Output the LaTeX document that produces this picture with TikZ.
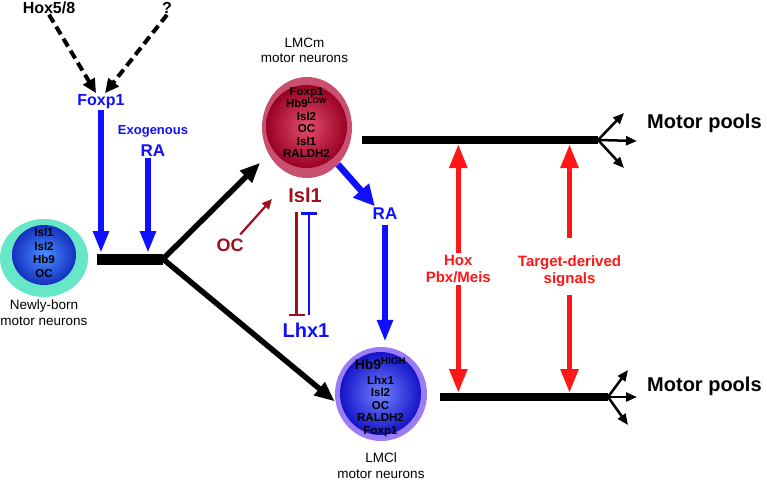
\documentclass[tikz,border=0pt]{standalone}
\usepackage{fontspec}
\setmainfont{Liberation Sans}
\usetikzlibrary{arrows.meta,shapes.geometric}
\definecolor{cblue}{HTML}{1010FF}
\definecolor{cred}{HTML}{FF1616}
\definecolor{cdred}{HTML}{A0101C}
\definecolor{mint}{HTML}{66E8C8}
\definecolor{rose}{HTML}{C8506E}
\definecolor{lav}{HTML}{9C7CF6}
\definecolor{nbIn}{HTML}{4A90FF}
\definecolor{nbOut}{HTML}{1430C0}
\definecolor{mIn}{HTML}{E2506C}
\definecolor{mOut}{HTML}{9A0024}
\definecolor{lIn}{HTML}{7080FF}
\definecolor{lOut}{HTML}{1414C8}
\newcommand{\fsz}[2]{\fontsize{#1}{#2}\selectfont}
\begin{document}
\begin{tikzpicture}[x=1pt,y=-1pt,
  txt/.style={inner sep=1pt, align=center},
  celltxt/.style={align=center, inner sep=0pt, font=\fsz{11.5}{12.5}\bfseries},
  cellcap/.style={align=center, inner sep=0pt, font=\fsz{13.5}{16}},
  cellring/.style={ellipse, inner sep=0pt},
  dasharr/.style={line width=4pt, dash pattern=on 9pt off 5pt, -{Triangle[length=14pt,width=13pt]}},
  bluearr/.style={cblue, line width=5.5pt, -{Triangle[length=22pt,width=15pt]}},
  blkarr/.style={line width=5.5pt, -{Triangle[length=20pt,width=16pt]}},
  thinarr/.style={line width=2.5pt, -{Triangle[length=11pt,width=9pt]}},
  redarr/.style={cred, line width=5.5pt, -{Triangle[length=24pt,width=17pt]}},
  inhib/.style={line width=2.5pt, -{Bar[width=16pt,line width=2.5pt]}},
]
\fill[white] (0,0) rectangle (767,481);
\useasboundingbox (0,0) rectangle (767,481);

% reference coordinates
\coordinate (barL) at (97,259);
\coordinate (fork) at (163,259);
\coordinate (bartop) at (0,253);
\coordinate (tbL) at (362,140);
\coordinate (f1) at (598,140);
\coordinate (bbL) at (440,397);
\coordinate (f2) at (608,397);
\coordinate (tb) at (0,144);
\coordinate (bb) at (0,393);
\coordinate (octip) at (272,199);
\coordinate (f1a) at (624,113);
\coordinate (f1b) at (637,141);
\coordinate (f1c) at (624,168);
\coordinate (f2a) at (628,370);
\coordinate (f2b) at (637,397);
\coordinate (f2c) at (628,425);

% cells
\node[cellring, fill=mint, minimum width=88pt, minimum height=78pt] (nb) at (44,258) {};
\shade[inner color=nbIn, outer color=nbOut] (44,255) ellipse [x radius=32, y radius=30];
\node[celltxt, font=\fsz{11.5}{13.7}\bfseries] (nbtxt) at (44,253) {Isl1\\Isl2\\Hb9\\OC};
\node[cellcap] (nbcap) at (44,313) {Newly-born\\motor neurons};

\node[cellring, fill=rose, minimum width=90pt, minimum height=101pt] (lmcm) at (307,127.5) {};
\shade[inner color=mIn, outer color=mOut] (306.5,126.5) ellipse [x radius=40.5, y radius=41.5];
\node[celltxt, font=\fsz{11.5}{12.4}\bfseries] (lmcmtxt) at (306.5,122.5) {Foxp1\\Hb9\smash{\textsuperscript{LOW}}\\Isl2\\OC\\Isl1\\RALDH2};
\node[cellcap, font=\fsz{13.5}{15}] (lmcmcap) at (304.5,50) {LMCm\\motor neurons};

\node[cellring, fill=lav, minimum width=92pt, minimum height=94pt] (lmcl) at (381,394) {};
\shade[inner color=lIn, outer color=lOut] (380.5,393.5) ellipse [x radius=40.5, y radius=41.5];
\node[celltxt] (lmcltxt) at (380.5,398) {{\fsz{14}{14}Hb9\smash{\textsuperscript{HIGH}}}\\[2.5pt]Lhx1\\Isl2\\OC\\RALDH2\\Foxp1};
\node[cellcap] (lmclcap) at (381,466) {LMCl\\motor neurons};

% labels
\node[txt, font=\fsz{16}{19}\bfseries] (hox) at (49,7.5) {Hox5/8};
\node[txt, font=\fsz{16}{19}\bfseries] (q) at (167,8) {?};
\node[txt, font=\fsz{16}{19}\bfseries, cblue] (foxp1) at (101,101.5) {Foxp1};
\node[txt, font=\fsz{13}{15}\bfseries, cblue] (exo) at (153,131.5) {Exogenous};
\node[txt, font=\fsz{17}{19}\bfseries, cblue] (exra) at (153,151) {RA};
\node[txt, font=\fsz{20}{22}\bfseries, cdred] (isl1) at (305,195) {Isl1};
\node[txt, font=\fsz{18}{20}\bfseries, cdred] (oc) at (230,245) {OC};
\node[txt, font=\fsz{20}{22}\bfseries, cblue] (lhx1) at (306,330) {Lhx1};
\node[txt, font=\fsz{17}{19}\bfseries, cblue] (ra2) at (385,214) {RA};
\node[align=center, inner xsep=0pt, inner ysep=2pt, font=\fsz{15}{17.5}\bfseries, cred] (hoxl) at (458.3,268.8) {Hox\\Pbx/Meis};
\node[align=center, inner sep=0pt, font=\fsz{15}{17.5}\bfseries, cred] (tgt) at (569.5,271) {Target-derived\\signals};
\node[anchor=base west, inner sep=0pt, font=\fsz{20}{22}\bfseries] (mp1) at (647,128.5) {Motor pools};
\node[anchor=base west, inner sep=0pt, font=\fsz{20}{22}\bfseries] (mp2) at (647,391.5) {Motor pools};

% bars
\draw[line width=11pt] (barL) -- (fork);
\draw[line width=8pt] (tbL) -- (f1);
\draw[line width=8pt] (bbL) -- (f2);

% connectors
\draw[dasharr] (hox.south) -- ([xshift=-5pt]foxp1.north);
\draw[dasharr] (q.south) -- ([xshift=4pt]foxp1.north);
\draw[bluearr] (foxp1.south) -- (foxp1.south |- bartop);
\draw[bluearr] ([xshift=-5pt]exra.south) -- ([xshift=-5pt]exra.south |- bartop);
\draw[blkarr, shorten >=12pt] (fork) -- (lmcm.215);
\draw[blkarr, shorten >=1pt] (fork) -- (lmcl.190);
\draw[cblue, line width=6.5pt, -{Triangle[length=21pt,width=20pt]}, shorten >=1pt] (lmcm.-50) -- ([xshift=4pt]ra2.north west);
\draw[bluearr, shorten <=4pt, shorten >=5pt] (ra2.south) -- (ra2.south |- lmcl.north);
\draw[cdred, line width=2.2pt, -{Triangle[length=10pt,width=9pt]}, shorten <=4pt] (oc.45) -- (octip);
\draw[inhib, cdred, shorten <=8.7pt, shorten >=5.5pt] ([xshift=-8.5pt]isl1.south) -- ([xshift=-8.5pt]isl1.south |- lhx1.north);
\draw[inhib, cblue, shorten <=6.5pt, shorten >=8.7pt] ([xshift=4pt]isl1.south |- lhx1.north) -- ([xshift=4pt]isl1.south);

\draw[redarr] (hoxl.north) -- (hoxl.north |- tb);
\draw[redarr] (hoxl.south) -- (hoxl.south |- bb);
\draw[redarr, shorten <=17pt] (tgt.north) -- (tgt.north |- tb);
\draw[redarr, shorten <=8.5pt] (tgt.south) -- (tgt.south |- bb);

\draw[thinarr] (f1) -- (f1a);
\draw[thinarr] (f1) -- (f1b);
\draw[thinarr] (f1) -- (f1c);
\draw[thinarr] (f2) -- (f2a);
\draw[thinarr] (f2) -- (f2b);
\draw[thinarr] (f2) -- (f2c);
\end{tikzpicture}
\end{document}
